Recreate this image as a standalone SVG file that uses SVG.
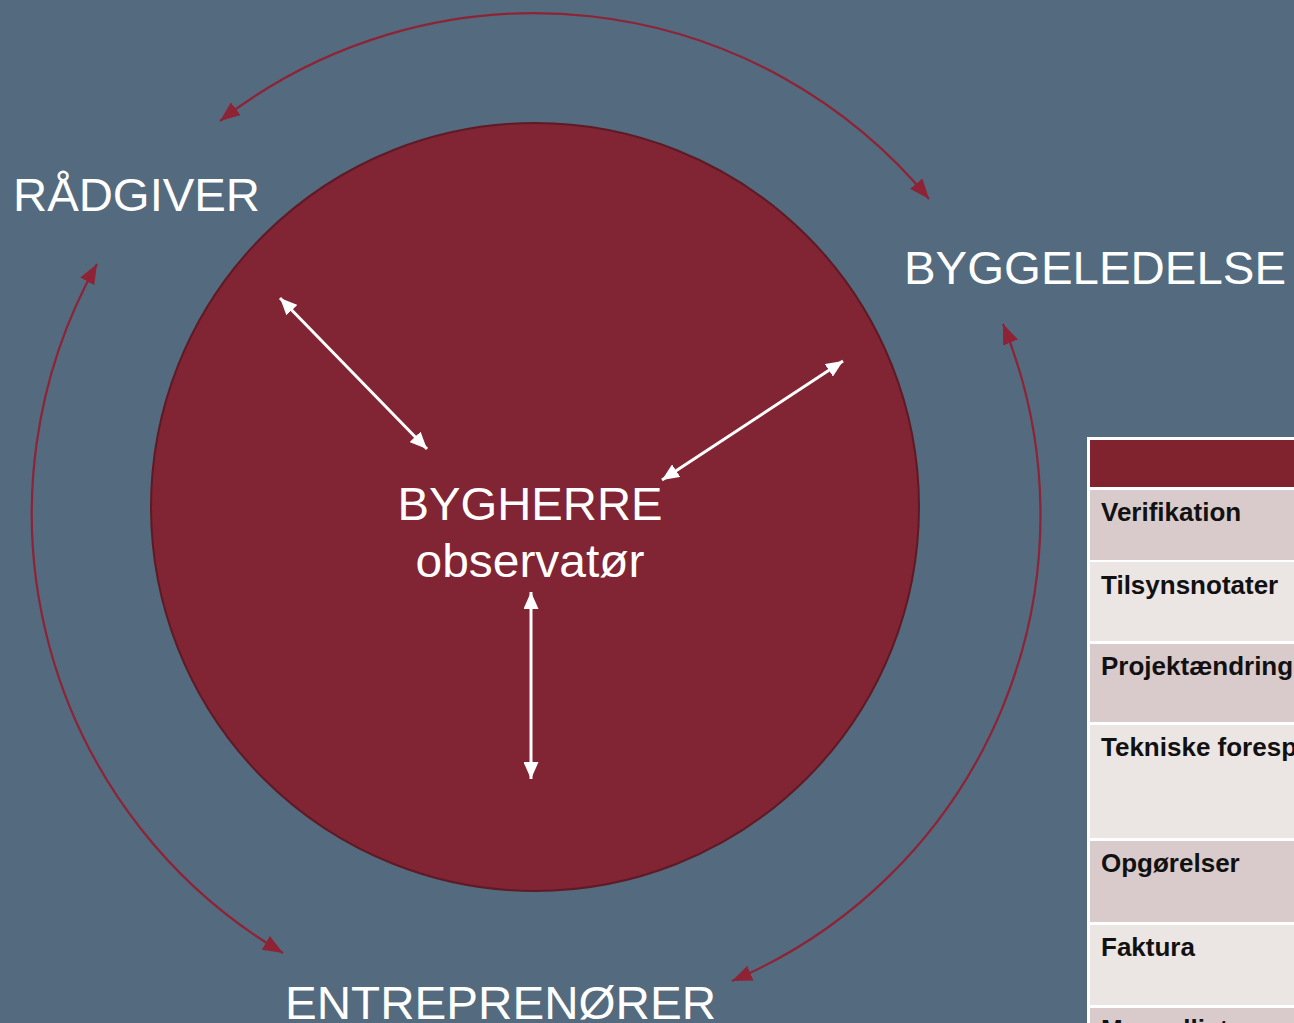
<svg xmlns="http://www.w3.org/2000/svg" width="1294" height="1023" viewBox="0 0 1294 1023">
<defs>
<marker id="redHead" viewBox="0 0 10 10" refX="10" refY="5" markerUnits="userSpaceOnUse" markerWidth="20" markerHeight="16" orient="auto-start-reverse" preserveAspectRatio="none">
<path d="M0,0 L10,5 L0,10 z" fill="#8e2336"/>
</marker>
<marker id="whiteHead" viewBox="0 0 10 10" refX="10" refY="5" markerUnits="userSpaceOnUse" markerWidth="17" markerHeight="15" orient="auto-start-reverse" preserveAspectRatio="none">
<path d="M0,0 L10,5 L0,10 z" fill="#ffffff"/>
</marker>
<style>
.lbl{font-family:"Liberation Sans",Arial,sans-serif;fill:#ffffff;font-size:46px}
.cell{font-family:"Liberation Sans",Arial,sans-serif;fill:#111111;font-size:26px;font-weight:bold}
.arc{fill:none;stroke:#8e2336;stroke-width:2.2;marker-start:url(#redHead);marker-end:url(#redHead)}
.warr{stroke:#ffffff;stroke-width:3;marker-start:url(#whiteHead);marker-end:url(#whiteHead)}
.dark{fill:#d9cbcb}
.light{fill:#ebe5e4}
</style>
</defs>
<rect x="0" y="0" width="1294" height="1023" fill="#546a7e"/>

<g id="bygherre">
<circle cx="535" cy="507" r="384" fill="#812433" stroke="#5e1a25" stroke-width="2"/>
<text class="lbl" x="530" y="520" text-anchor="middle" textLength="265" lengthAdjust="spacingAndGlyphs">BYGHERRE</text>
<text class="lbl" x="530" y="577" text-anchor="middle" textLength="229" lengthAdjust="spacingAndGlyphs">observatør</text>
</g>

<g id="raadgiver">
<text class="lbl" x="13" y="211" textLength="247" lengthAdjust="spacingAndGlyphs">RÅDGIVER</text>
</g>
<g id="byggeledelse">
<text class="lbl" x="904" y="284" textLength="382" lengthAdjust="spacingAndGlyphs">BYGGELEDELSE</text>
</g>
<g id="entreprenoerer">
<text class="lbl" x="285" y="1019" textLength="431" lengthAdjust="spacingAndGlyphs">ENTREPRENØRER</text>
</g>

<g id="connectors">
<path class="arc" d="M 220 121 A 512 512 0 0 1 929 199"/>
<path class="arc" d="M 97 264 A 510 510 0 0 0 283 953"/>
<path class="arc" d="M 1003 324 A 506 506 0 0 1 732 981"/>
<line class="warr" x1="280" y1="298" x2="427" y2="449"/>
<line class="warr" x1="843" y1="361" x2="662" y2="480"/>
<line class="warr" x1="531" y1="592" x2="531" y2="779"/>
</g>

<g id="table">
<rect x="1087" y="437" width="220" height="600" fill="#ffffff"/>
<rect x="1090" y="440" width="210" height="47" fill="#81222f"/>
<rect class="dark" x="1090" y="490" width="210" height="70"/>
<rect class="light" x="1090" y="562" width="210" height="79"/>
<rect class="dark" x="1090" y="644" width="210" height="78"/>
<rect class="light" x="1090" y="725" width="210" height="113"/>
<rect class="dark" x="1090" y="841" width="210" height="81"/>
<rect class="light" x="1090" y="925" width="210" height="80"/>
<rect class="dark" x="1090" y="1008" width="210" height="30"/>
<text class="cell" x="1101" y="521">Verifikation</text>
<text class="cell" x="1101" y="594">Tilsynsnotater</text>
<text class="cell" x="1101" y="675">Projektændringer</text>
<text class="cell" x="1101" y="756">Tekniske forespørgsler</text>
<text class="cell" x="1101" y="872">Opgørelser</text>
<text class="cell" x="1101" y="956">Faktura</text>
<text class="cell" x="1101" y="1038">Mangelliste</text>
</g>
</svg>
